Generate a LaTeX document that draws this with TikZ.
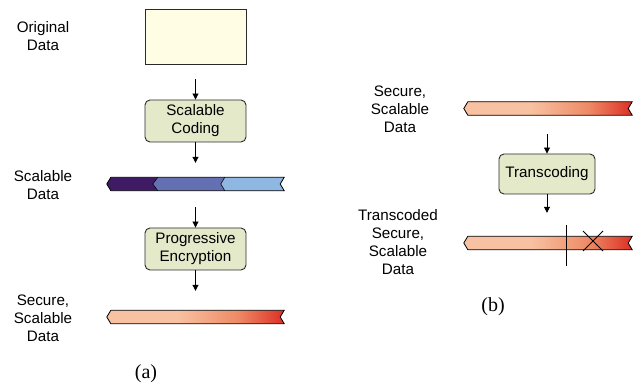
\documentclass[tikz,border=0pt]{standalone}
\usepackage{fontspec}
\setmainfont{Liberation Sans}
\newfontfamily\capfont{Liberation Serif}
\usetikzlibrary{calc,arrows.meta}
\definecolor{boxgreen}{HTML}{E4E9CA}
\definecolor{boxyellow}{HTML}{FFFDE4}
\definecolor{salmon}{HTML}{F8C1A1}
\definecolor{midred}{HTML}{EE8A65}
\definecolor{deepred}{HTML}{DC2F25}
\definecolor{purpA}{HTML}{3F1B66}
\definecolor{purpB}{HTML}{6570B2}
\definecolor{purpC}{HTML}{8EB8E2}
\definecolor{edge}{HTML}{2A2A2A}
\pgfdeclarehorizontalshading{redribbon}{100bp}{color(0bp)=(salmon); color(25bp)=(salmon); color(45bp)=(salmon); color(62bp)=(midred); color(75bp)=(deepred); color(100bp)=(deepred)}
\newcommand\ribbon[2]{\path[#2] ($(#1.north west)+(4,0)$) -- (#1.west) -- ($(#1.south west)+(4,0)$) -- (#1.south east) -- ($(#1.east)+(-4,0)$) -- (#1.north east) -- cycle;}
\tikzset{
  lbl/.style={align=center, inner sep=0pt, font=\fontsize{15.2}{18}\selectfont},
  capt/.style={inner sep=0pt, font=\capfont\fontsize{20}{22}\selectfont},
  procbox/.style={draw=edge, line width=0.9pt, fill=boxgreen, rounded corners=5pt, minimum width=101pt, minimum height=42pt, inner sep=0pt, align=center, font=\fontsize{15.2}{18}\selectfont},
  databox/.style={draw=edge, line width=0.9pt, fill=boxyellow, minimum width=101pt, minimum height=55pt, inner sep=0pt},
  barbox/.style={draw=none, inner sep=0pt, minimum height=13pt},
  arr/.style={line width=0.9pt, -{Triangle[length=6pt,width=6pt]}},
  redbar/.style={draw=black, line width=0.8pt, shade, shading=redribbon}
}
\begin{document}
\begin{tikzpicture}[x=1pt,y=-1pt]
\useasboundingbox (0,0) rectangle (633,387);
% panel (a)
\node[lbl] (lorig) at (43,36) {Original\\Data};
\node[databox] (orig) at (195.5,36.5) {};
\node[procbox] (scal) at (195.5,121) {Scalable\\Coding};
\node[barbox, minimum width=177pt] (b1) at (195.5,184) {};
\node[lbl] (lscal) at (43,185.5) {Scalable\\Data};
\node[procbox] (prog) at (195.5,249) {Progressive\\Encryption};
\node[barbox, minimum width=177pt] (b2) at (195.5,317) {};
\node[lbl] (lsec) at (43,318) {Secure,\\Scalable\\Data};
\node[capt] (capa) at (146,374) {(a)};
% purple segmented ribbon
\fill[purpA] ($(b1.north west)+(4,0)$) -- (b1.west) -- ($(b1.south west)+(4,0)$) -- ($(b1.south west)+(51,0)$) -- ($(b1.west)+(46,0)$) -- ($(b1.north west)+(51,0)$) -- cycle;
\fill[purpB] ($(b1.north west)+(51,0)$) -- ($(b1.west)+(46,0)$) -- ($(b1.south west)+(51,0)$) -- ($(b1.south west)+(118,0)$) -- ($(b1.west)+(114,0)$) -- ($(b1.north west)+(118,0)$) -- cycle;
\fill[purpC] ($(b1.north west)+(118,0)$) -- ($(b1.west)+(114,0)$) -- ($(b1.south west)+(118,0)$) -- (b1.south east) -- ($(b1.east)+(-4,0)$) -- (b1.north east) -- cycle;
\draw[line width=0.6pt] ($(b1.north west)+(51,0)$) -- ($(b1.west)+(46,0)$) -- ($(b1.south west)+(51,0)$);
\draw[line width=0.6pt] ($(b1.north west)+(118,0)$) -- ($(b1.west)+(114,0)$) -- ($(b1.south west)+(118,0)$);
\ribbon{b1}{draw=black, line width=0.8pt}
\ribbon{b2}{redbar}
\draw[arr, shorten <=15pt] (orig) -- (scal);
\draw[arr, shorten >=14.5pt] (scal) -- (b1);
\draw[arr, shorten <=16.5pt] (b1) -- (prog);
\draw[arr, shorten >=19.5pt] (prog) -- (b2);
% panel (b)
\node[barbox, minimum width=168pt] (rb1) at (548,108.5) {};
\node[lbl] (rsec) at (400,109) {Secure,\\Scalable\\Data};
\node[procbox, minimum width=96pt, minimum height=40pt] (trans) at (547,174) {Transcoding};
\node[barbox, minimum width=168pt] (rb2) at (548,243) {};
\node[lbl] (rtr) at (398,242) {Transcoded\\Secure,\\Scalable\\Data};
\node[capt] (capb) at (493,307) {(b)};
\ribbon{rb1}{redbar}
\ribbon{rb2}{redbar}
\draw[arr, shorten <=19pt] (rb1.south -| trans.north) -- (trans.north);
\draw[arr, shorten >=23.5pt] (trans.south) -- (trans.south |- rb2.north);
\coordinate (cut1) at (566,225);
\coordinate (cut2) at (566,266);
\draw[line width=0.9pt] (cut1) -- (cut2);
\coordinate (xa) at (583,231);
\coordinate (xb) at (603,251);
\coordinate (xc) at (583,251);
\coordinate (xd) at (603,231);
\draw[line width=0.9pt] (xa) -- (xb) (xc) -- (xd);
\end{tikzpicture}
\end{document}
